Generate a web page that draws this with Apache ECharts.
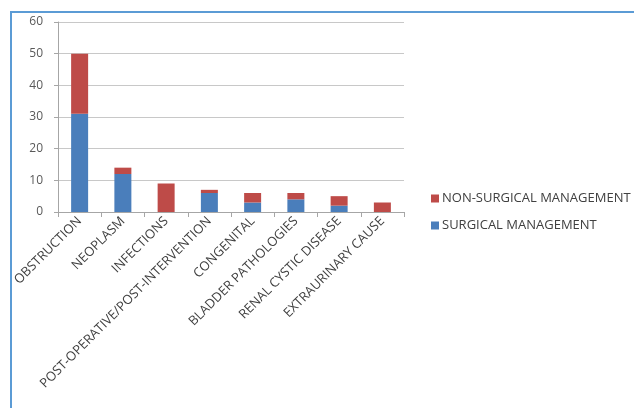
<!DOCTYPE html>
<html>
<head>
<meta charset="utf-8">
<script src="https://cdn.jsdelivr.net/npm/echarts@6/dist/echarts.min.js"></script>
<style>
  html, body { margin: 0; padding: 0; background: #fff; }
  #chart { width: 634px; height: 408px; }
</style>
</head>
<body>
<div id="chart"></div>
<script>
// Causes and management counts
var categories = [
  'OBSTRUCTION', 'NEOPLASM', 'INFECTIONS', 'POST-OPERATIVE/POST-INTERVENTION',
  'CONGENITAL', 'BLADDER PATHOLOGIES', 'RENAL CYSTIC DISEASE', 'EXTRAURINARY CAUSE'
];
var surgical = [31, 12, 0, 6, 3, 4, 2, 0];
var nonSurgical = [19, 2, 9, 1, 3, 2, 3, 3];
var yTicks = [0, 10, 20, 30, 40, 50, 60];

var FONT = '"Open Sans", "Liberation Sans", sans-serif';
var chart = echarts.init(document.getElementById('chart'), null, { renderer: 'canvas' });

chart.setOption({
  backgroundColor: '#ffffff',
  animation: false,
  textStyle: { fontFamily: FONT },
  graphic: [{
    type: 'rect',
    shape: { x: 11, y: 12, width: 900, height: 600 },
    style: { fill: 'none', stroke: '#5b9bd5', lineWidth: 2 },
    silent: true
  }],
  grid: { left: 58, top: 22, right: 230, bottom: 196, containLabel: false },
  legend: {
    orient: 'vertical',
    left: 426,
    top: 187,
    itemWidth: 8,
    itemHeight: 8,
    itemGap: 14,
    icon: 'rect',
    data: ['NON-SURGICAL MANAGEMENT', 'SURGICAL MANAGEMENT'],
    textStyle: { fontFamily: FONT, fontSize: 13, color: '#404040', padding: [0, 0, 0, -2] }
  },
  xAxis: {
    type: 'category',
    data: categories,
    axisLine: { lineStyle: { color: '#a6a6a6' } },
    axisTick: { show: true, alignWithLabel: false, length: 5, lineStyle: { color: '#a6a6a6' } },
    axisLabel: {
      interval: 0,
      rotate: 45,
      fontSize: 13,
      color: '#404040',
      fontFamily: FONT,
      margin: 7
    }
  },
  yAxis: {
    type: 'value',
    min: yTicks[0],
    max: yTicks[yTicks.length - 1],
    interval: 10,
    axisLine: { show: true, lineStyle: { color: '#a6a6a6' } },
    axisTick: { show: true, length: 4, lineStyle: { color: '#a6a6a6' } },
    axisLabel: { fontSize: 12, color: '#595959', fontFamily: FONT, margin: 15 },
    splitLine: { lineStyle: { color: '#c8c8c8' } }
  },
  series: [
    {
      name: 'SURGICAL MANAGEMENT',
      type: 'bar',
      stack: 'total',
      data: surgical,
      barWidth: 17,
      itemStyle: { color: '#4a7ebb' }
    },
    {
      name: 'NON-SURGICAL MANAGEMENT',
      type: 'bar',
      stack: 'total',
      data: nonSurgical,
      barWidth: 17,
      itemStyle: { color: '#be4b48' }
    }
  ]
});
</script>
</body>
</html>
